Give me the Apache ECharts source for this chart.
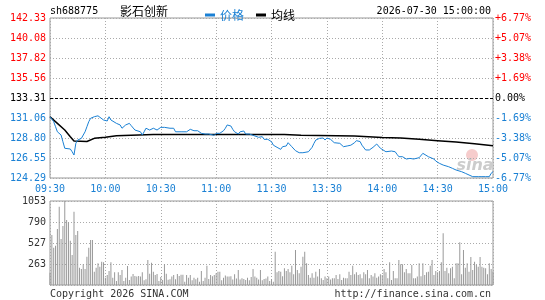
<!DOCTYPE html>
<html>
<head>
<meta charset="utf-8">
<title>sh688775 影石创新</title>
<script src="https://cdn.jsdelivr.net/npm/echarts@6/dist/echarts.min.js"></script>
<style>
  html, body { margin: 0; padding: 0; background: #fff; }
  #chart { width: 545px; height: 300px; }
</style>
</head>
<body>
<div id="chart"></div>
<script>
var preClose = 133.31
var priceTicks = [124.29, 126.55, 128.80, 131.06, 133.31, 135.56, 137.82, 140.08, 142.33]
var pctTicks = ['-6.77%', '-5.07%', '-3.38%', '-1.69%', '0.00%', '+1.69%', '+3.38%', '+5.07%', '+6.77%']
var volTicks = [0, 263, 527, 790, 1053]
var timeLabels = ['09:30', '10:00', '10:30', '11:00', '11:30', '13:30', '14:00', '14:30', '15:00']

// [minute index, price]
var priceData = [
  [0,131.2],[2,130.64],[3,130.07],[4,129.5],[6,129.14],[7,128.38],[8,127.64],[9,127.45],[11,127.56],[12,127.25],
  [13,126.88],[14,128.2],[15,128.57],[17,128.76],[18,128.95],[19,129.5],[20,130.07],[21,130.64],[22,131.02],[23,130.83],
  [24,131.2],[25,131.39],[26,131.3],[27,131.2],[29,130.83],[30,130.64],[31,130.72],[32,131.2],[33,130.83],[34,130.64],
  [36,130.45],[38,130.27],[39,129.9],[40,130.07],[41,130.27],[43,130.45],[44,130.19],[46,129.7],[47,129.5],[49,129.5],
  [50,129.14],[51,129.5],[52,129.9],[54,129.7],[56,129.9],[58,129.7],[60,130.0],[62,130.0],[63,129.78],[65,129.9],
  [66,129.7],[67,129.9],[68,129.5],[69,129.33],[71,129.5],[74,129.5],[76,129.78],[77,129.8],[78,129.62],[80,129.62],
  [82,129.33],[84,129.25],[86,129.25],[87,129.1],[89,129.1],[90,129.33],[91,129.44],[92,129.33],[94,129.62],[95,129.9],
  [96,130.27],[97,130.45],[98,130.15],[99,129.78],[100,129.5],[102,129.25],[103,129.5],[105,129.59],[106,129.25],[108,129.25],
  [109,129.03],[111,129.03],[113,128.88],[115,128.95],[116,128.65],[118,128.65],[119,128.5],[120,128.38],[121,127.99],[123,127.75],
  [124,127.9],[125,127.52],[126,127.82],[128,127.9],[129,128.27],[130,128.2],[131,127.82],[132,127.64],[133,127.37],[135,127.14],
  [137,127.14],[138,126.95],[140,127.25],[141,127.25],[142,127.75],[143,128.2],[144,128.57],[146,128.76],[147,128.65],[148,128.8],
  [149,128.57],[150,128.8],[151,128.88],[152,128.65],[153,128.76],[154,128.27],[157,128.2],[158,128.2],[159,127.82],[161,127.9],
  [163,127.99],[165,128.27],[166,128.5],[168,128.4],[169,127.99],[171,127.45],[173,127.45],[175,127.75],[177,128.12],[178,127.99],
  [179,127.64],[180,127.45],[182,127.25],[183,127.18],[185,127.33],[187,127.25],[188,126.96],[189,126.69],[191,126.69],[192,126.5],
  [193,126.43],[195,126.5],[196,126.32],[197,126.43],[198,126.58],[200,126.58],[201,126.69],[202,127.07],[203,126.88],[205,126.69],
  [206,126.69],[208,126.43],[209,126.2],[210,126.06],[211,125.94],[213,125.75],[214,125.7],[216,125.56],[218,125.38],[220,125.19],
  [221,125.08],[223,125.0],[225,124.82],[227,124.63],[229,124.44],[230,124.32],[232,124.44],[234,124.44],[236,124.44],[238,124.44],
  [239,124.82],[240,125.0]
]

// [minute index, average price]
var avgData = [
  [0,131.2],[4,130.45],[8,129.7],[11,128.95],[13,128.46],[20,128.4],[24,128.76],[30,128.88],[36,129.06],[56,129.2],
  [127,129.2],[128,129.1],[136,129.1],[137,129.03],[165,129.03],[166,128.91],[180,128.86],[190,128.8],[200,128.65],
  [210,128.5],[220,128.35],[230,128.15],[240,127.93]
]

// one value per minute, 09:30 .. 15:00
var volume = [
  155, 627, 468, 493, 702, 982, 577, 740, 1053, 815, 786, 556, 376, 919, 627, 677, 217, 201, 259, 201,
  355, 468, 564, 564, 167, 217, 272, 230, 292, 284, 92, 125, 176, 284, 92, 159, 50, 159, 125, 188,
  50, 92, 238, 63, 105, 138, 113, 105, 113, 105, 159, 58, 73, 314, 142, 280, 167, 125, 138, 50,
  100, 63, 263, 142, 67, 73, 105, 125, 73, 138, 113, 130, 130, 42, 125, 92, 125, 58, 92, 73,
  92, 42, 176,
  50, 92, 242, 75, 125, 110, 125, 146, 167, 167, 60, 92, 120, 105, 105, 110, 70, 134, 80, 188,
  70, 84, 75, 63, 90, 60, 100, 201, 105, 92, 70, 188, 60, 75, 80, 105, 50, 75, 40, 418,
  159, 176, 167, 110, 209, 176, 201, 159, 242, 134, 439, 188, 146, 230, 355, 418, 272, 125, 92, 146,
  92, 167, 105, 201, 84, 63, 105, 84, 105, 70, 84, 84, 125, 75, 134, 63, 90, 84, 84, 167,
  125, 242, 134, 159, 125, 134, 84, 159, 134, 188, 84, 125, 105, 146, 92,
  105, 134, 125, 201, 159, 84, 284, 63, 176, 84, 84, 314, 259, 259, 159, 201, 146, 146, 251, 84,
  84, 105, 272, 110, 272, 125, 159, 167, 242, 314, 125, 176, 159, 176, 284, 648, 176, 217, 146, 209,
  230, 84, 272, 272, 535, 134, 439, 217, 272, 167, 351, 188, 293, 251, 230, 351, 230, 217, 209, 134,
  272, 201, 167
]

var RED = '#ff0000'
var BLUE = '#1a80d4'
var MONO = 'DejaVu Sans Mono'
var CJK = 'Noto Sans CJK SC'

var volData = volume.map(function (v, i) { return [i, v] })

function tickIndex(v) {
  for (var i = 0; i < priceTicks.length; i++) {
    if (Math.abs(priceTicks[i] - v) < 0.001) return i
  }
  return -1
}
function tickColor(v) {
  if (Math.abs(v - preClose) < 0.001) return '#000'
  return v > preClose ? RED : BLUE
}

var dotted = { color: '#aaaaaa', type: [1, 2], width: 1 }

var option = {
  animation: false,
  backgroundColor: '#fff',
  legend: {
    left: 200,
    top: 4,
    icon: 'rect',
    itemWidth: 10,
    itemHeight: 3,
    itemGap: 12,
    selectedMode: false,
    textStyle: { fontFamily: CJK, fontSize: 12 },
    data: [
      { name: '价格', textStyle: { color: BLUE } },
      { name: '均线', textStyle: { color: '#000' } }
    ]
  },
  grid: [
    { left: 50, top: 18, width: 443, height: 160, show: true, borderColor: '#999', borderWidth: 1 },
    { left: 50, top: 201, width: 443, height: 84, show: true, borderColor: '#999', borderWidth: 1 }
  ],
  xAxis: [
    {
      type: 'value', gridIndex: 0, min: 0, max: 240, interval: 30,
      axisLine: { show: false },
      axisTick: { show: false },
      axisLabel: {
        margin: 6, color: BLUE, fontFamily: MONO, fontSize: 10,
        formatter: function (v) { return timeLabels[Math.round(v / 30)] }
      },
      splitLine: { show: true, lineStyle: dotted }
    },
    {
      type: 'value', gridIndex: 1, min: 0, max: 240, interval: 30,
      axisLine: { show: false },
      axisTick: { show: false },
      axisLabel: { show: false },
      splitLine: { show: true, lineStyle: dotted }
    }
  ],
  yAxis: [
    {
      type: 'value', gridIndex: 0, min: priceTicks[0], max: priceTicks[8],
      axisLine: { show: false },
      axisTick: { show: false, customValues: priceTicks },
      axisLabel: {
        customValues: priceTicks,
        margin: 4, fontFamily: MONO, fontSize: 10,
        color: function (v) { return tickColor(v) },
        formatter: function (v) { return Number(v).toFixed(2) }
      },
      splitLine: { show: true, lineStyle: dotted }
    },
    {
      type: 'value', gridIndex: 0, position: 'right', min: priceTicks[0], max: priceTicks[8],
      axisLine: { show: false },
      axisTick: { show: false, customValues: priceTicks },
      axisLabel: {
        customValues: priceTicks,
        margin: 2, fontFamily: MONO, fontSize: 10,
        color: function (v) { return tickColor(v) },
        formatter: function (v) { return pctTicks[tickIndex(v)] }
      },
      splitLine: { show: false }
    },
    {
      type: 'value', gridIndex: 1, min: 0, max: volTicks[4],
      axisLine: { show: false },
      axisTick: { show: false, customValues: volTicks },
      axisLabel: {
        customValues: volTicks,
        margin: 4, fontFamily: MONO, fontSize: 10, color: '#333',
        formatter: function (v) { return v === 0 ? '' : String(v) }
      },
      splitLine: { show: true, lineStyle: dotted }
    }
  ],
  graphic: [
    { type: 'text', x: 50, y: 11, style: { text: 'sh688775', font: '10px ' + MONO, fill: '#000', align: 'left', verticalAlign: 'middle' } },
    { type: 'text', x: 120, y: 11, style: { text: '影石创新', font: '12px "' + CJK + '"', fill: '#000', align: 'left', verticalAlign: 'middle' } },
    { type: 'text', x: 491, y: 11, style: { text: '2026-07-30 15:00:00', font: '10px ' + MONO, fill: '#000', align: 'right', verticalAlign: 'middle' } },
    { type: 'text', x: 50, y: 294, style: { text: 'Copyright 2026 SINA.COM', font: '10px ' + MONO, fill: '#333', align: 'left', verticalAlign: 'middle' } },
    { type: 'text', x: 491, y: 294, style: { text: 'http://finance.sina.com.cn', font: '10px ' + MONO, fill: '#333', align: 'right', verticalAlign: 'middle' } },
    { type: 'circle', z: 0, shape: { cx: 472, cy: 155, r: 6 }, style: { fill: '#f6cccc' } },
    { type: 'text', z: 0, x: 475, y: 166, style: { text: 'sina', font: 'italic bold 16px "DejaVu Sans"', fill: '#cccccc', align: 'center', verticalAlign: 'middle' } }
  ],
  series: [
    {
      name: '价格', type: 'line', xAxisIndex: 0, yAxisIndex: 0,
      data: priceData, showSymbol: false, symbol: 'none',
      color: BLUE,
      lineStyle: { color: BLUE, width: 1 },
      markLine: {
        silent: true, symbol: 'none', label: { show: false },
        lineStyle: { color: '#000', type: [3, 2], width: 1 },
        data: [{ yAxis: preClose }]
      },
      z: 3
    },
    {
      name: '均线', type: 'line', xAxisIndex: 0, yAxisIndex: 0,
      data: avgData, showSymbol: false, symbol: 'none',
      color: '#000',
      lineStyle: { color: '#000', width: 1.5 },
      z: 2
    },
    {
      name: '成交量', type: 'bar', xAxisIndex: 1, yAxisIndex: 2,
      data: volData, barWidth: 1,
      itemStyle: { color: '#999999' }
    }
  ]
}

var chart = echarts.init(document.getElementById('chart'))
chart.setOption(option)
window.addEventListener('resize', function () {
  chart.resize()
})
</script>
</body>
</html>
